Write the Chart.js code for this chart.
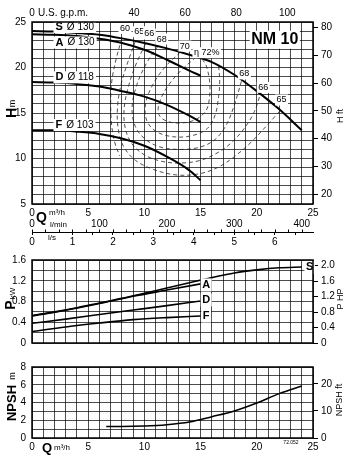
<!DOCTYPE html>
<html>
<head>
<meta charset="utf-8">
<script src="https://cdn.jsdelivr.net/npm/chart.js@4/dist/chart.umd.min.js"></script>
<style>
  html, body { margin: 0; padding: 0; background: #fff; }
  #wrap { position: relative; width: 350px; height: 456px; overflow: hidden; }
  canvas { position: absolute; left: 0; }
</style>
</head>
<body>
<div id="wrap">
  <canvas id="cH" width="350" height="250" style="top:0"></canvas>
  <canvas id="cP" width="350" height="107" style="top:248px"></canvas>
  <canvas id="cN" width="350" height="101" style="top:355px"></canvas>
</div>
<script>
// ---- data (Q in m3/h) ----
var curveNames = ['S', 'A', 'D', 'F'];
var diameters = [130, 130, 118, 103];

// head H (m)
var qS = [0, 2, 4, 6, 8, 10, 12, 14, 16, 18, 20, 22, 24];
var hS = [24.0, 23.95, 23.8, 23.6, 23.2, 22.7, 22.1, 21.4, 20.6, 19.2, 17.4, 15.4, 13.1];
var qAF = [0, 2, 4, 6, 8, 10, 12, 14, 15];
var hA = [23.65, 23.6, 23.45, 23.15, 22.7, 21.95, 20.85, 19.65, 19.1];
var hD = [18.4, 18.35, 18.2, 17.9, 17.4, 16.8, 15.9, 14.7, 14.0];
var hF = [13.1, 13.1, 12.95, 12.7, 12.2, 11.4, 10.2, 8.7, 7.6];

// efficiency lines, [Q, H]
var etaLevels = [60, 65, 66, 68, 70, 72];
var eta60 = [[8.0, 23.2], [7.5, 21.0], [7.1, 18.5], [7.0, 16.0], [7.1, 13.5], [7.4, 11.6], [7.8, 10.3]];
var eta65 = [[9.2, 22.9], [8.5, 20.5], [7.9, 18.0], [7.6, 15.5], [7.7, 13.0], [8.2, 11.2], [9.2, 9.8], [10.8, 8.8], [12.8, 8.2],
             [14.8, 8.3], [16.5, 9.0], [18.0, 10.2], [19.5, 11.8], [20.8, 13.5], [21.6, 14.6], [22.1, 15.3]];
var eta66 = [[10.1, 22.6], [9.3, 20.5], [8.6, 18.0], [8.2, 15.5], [8.3, 13.3], [8.9, 11.6], [10.0, 10.4], [11.5, 9.7], [13.2, 9.5],
             [15.0, 9.8], [16.6, 10.7], [17.8, 11.8], [19.0, 13.5], [19.8, 15.2], [20.3, 17.0]];
var eta68 = [[11.2, 22.35], [10.2, 20.5], [9.3, 18.0], [8.9, 15.5], [9.2, 13.5], [10.0, 12.2], [11.3, 11.3], [13.0, 11.0],
             [14.8, 11.2], [16.2, 12.0], [17.2, 13.5], [17.9, 15.5], [18.4, 17.5], [18.7, 18.8]];
var eta70 = [[13.2, 21.7], [11.8, 20.0], [10.7, 18.0], [10.1, 16.0], [10.2, 14.2], [11.0, 13.0], [12.5, 12.4], [14.2, 12.5],
             [15.6, 13.3], [16.3, 14.8], [16.6, 16.8], [16.7, 18.5], [16.6, 20.2]];
var eta72 = [[14.6, 21.15], [13.2, 19.6], [12.0, 17.8], [11.3, 16.0], [11.3, 14.8], [12.0, 14.1], [13.3, 13.9], [14.6, 14.3],
             [15.5, 15.3], [15.8, 16.8], [15.8, 18.5], [15.5, 20.2], [15.2, 20.8]];

// power P (kW)
var qPS = [0, 2, 4, 6, 8, 10, 12, 14, 16, 18, 20, 22, 24];
var pS = [0.53, 0.6, 0.68, 0.77, 0.86, 0.96, 1.06, 1.16, 1.26, 1.35, 1.41, 1.45, 1.465];
var qP = [0, 3, 6, 9, 12, 15];
var pA = [0.52, 0.63, 0.76, 0.9, 1.02, 1.14];
var pD = [0.38, 0.46, 0.55, 0.635, 0.72, 0.81];
var pF = [0.22, 0.31, 0.385, 0.45, 0.49, 0.52];

// NPSH (m)
var qN = [6.6, 8, 10, 12, 14, 16, 18, 20, 22, 24];
var nN = [1.3, 1.3, 1.35, 1.5, 1.8, 2.4, 3.05, 3.95, 5.0, 5.85];

// ---- helpers ----
var FONT = '"Liberation Sans", Arial, Helvetica, sans-serif';
var GRID = 'rgba(0,0,0,0.7)';

function pts(xs, ys) { return xs.map(function (x, i) { return { x: x, y: ys[i] }; }); }
function pairs(a) { return a.map(function (p) { return { x: p[0], y: p[1] }; }); }
function steps(a, b, s) {
  var out = [];
  for (var v = a; v <= b + 1e-9; v += s) out.push({ value: Math.round(v * 1000) / 1000 });
  return out;
}
function curve(data, w) {
  return { data: data, showLine: true, borderColor: '#000', borderWidth: w, pointRadius: 0,
           cubicInterpolationMode: 'monotone', fill: false };
}
function dashed(data) {
  return { data: data, showLine: true, borderColor: '#222', borderWidth: 0.8, borderDash: [4, 3],
           pointRadius: 0, tension: 0.35, fill: false };
}
function txt(ctx, s, x, y, size, opt) {
  opt = opt || {};
  ctx.save();
  ctx.font = (opt.bold ? 'bold ' : '') + size + 'px ' + FONT;
  ctx.textAlign = opt.align || 'center';
  ctx.textBaseline = 'middle';
  if (opt.rot) { ctx.translate(x, y); ctx.rotate(-Math.PI / 2); x = 0; y = 0; }
  if (opt.bg) {
    var w = ctx.measureText(s).width;
    var x0 = opt.align === 'left' ? x : (opt.align === 'right' ? x - w : x - w / 2);
    ctx.fillStyle = '#fff';
    ctx.fillRect(x0 - 1.5, y - size / 2 - 1, w + 3, size + 2);
  }
  ctx.fillStyle = '#000';
  ctx.fillText(s, x, y);
  ctx.restore();
}
function curveLabel(ctx, letter, dia, x, y) {
  ctx.save();
  ctx.font = 'bold 11px ' + FONT;
  var w1 = ctx.measureText(letter).width;
  ctx.font = '10px ' + FONT;
  var w2 = ctx.measureText('Ø ' + dia).width;
  ctx.fillStyle = '#fff';
  ctx.fillRect(x - 2, y - 6, w1 + w2 + 8, 12);
  ctx.restore();
  txt(ctx, letter, x, y, 11, { bold: true, align: 'left' });
  txt(ctx, 'Ø ' + dia, x + w1 + 4, y, 10, { align: 'left' });
}
var frame = {
  id: 'frame',
  afterDraw: function (chart) {
    var a = chart.chartArea, ctx = chart.ctx;
    ctx.save();
    ctx.strokeStyle = '#000';
    ctx.lineWidth = 1.5;
    ctx.strokeRect(a.left, a.top, a.right - a.left, a.bottom - a.top);
    ctx.restore();
  }
};
function tickFont() { return { family: FONT, size: 10 }; }
function baseOpts(scales, padTop) {
  return {
    responsive: false, animation: false, devicePixelRatio: 1, events: [],
    layout: { padding: { top: padTop, left: 0, right: 0, bottom: 0 } },
    plugins: { legend: { display: false }, tooltip: { enabled: false } },
    scales: scales
  };
}
function leftAxis(min, max, step, labelFn) {
  return {
    type: 'linear', position: 'left', min: min, max: max,
    afterBuildTicks: function (s) { s.ticks = steps(min, max, step); },
    ticks: { autoSkip: false, padding: 6, font: tickFont(), color: '#000', callback: labelFn },
    grid: { color: GRID, lineWidth: 1, drawTicks: false },
    border: { display: false },
    afterFit: function (s) { s.width = 32; }
  };
}
function rightAxis(min, max, values, labelFn) {
  return {
    type: 'linear', position: 'right', min: min, max: max,
    afterBuildTicks: function (s) { s.ticks = values.map(function (v) { return { value: v }; }); },
    ticks: { autoSkip: false, padding: 3, font: tickFont(), color: '#000', callback: labelFn },
    grid: { drawOnChartArea: false, drawTicks: true, tickLength: 5, color: '#000' },
    border: { display: false },
    afterFit: function (s) { s.width = 37; }
  };
}
function qAxis(showLabels, h, pad) {
  return {
    type: 'linear', position: 'bottom', min: 0, max: 25, weight: 0,
    afterBuildTicks: function (s) { s.ticks = steps(0, 25, 1); },
    ticks: { display: showLabels, autoSkip: false, maxRotation: 0, padding: pad, font: tickFont(), color: '#000',
             callback: function (v) { return v % 5 === 0 ? String(v) : ''; } },
    grid: { color: GRID, lineWidth: 1, drawTicks: false },
    border: { display: false },
    afterFit: function (s) { s.height = h; }
  };
}

// ---- H chart ----
var scH = {
  x: qAxis(true, 13, 3),
  xLmin: {
    type: 'linear', position: 'bottom', weight: 1, min: 0, max: 25 / 0.06,
    afterBuildTicks: function (s) { s.ticks = steps(0, 400, 100); },
    ticks: { autoSkip: false, maxRotation: 0, padding: 1, font: tickFont(), color: '#000' },
    grid: { display: false, drawTicks: false }, border: { display: false },
    afterFit: function (s) { s.height = 15; }
  },
  xLs: {
    type: 'linear', position: 'bottom', weight: 2, min: 0, max: 25 / 3.6,
    afterBuildTicks: function (s) { s.ticks = steps(0, 6.5, 0.5); },
    ticks: { autoSkip: false, maxRotation: 0, padding: 1, font: tickFont(), color: '#000',
             callback: function (v) { return v % 1 === 0 ? String(v) : ''; } },
    grid: { display: true, drawOnChartArea: false, drawTicks: true, tickLength: 3, color: '#000' },
    border: { display: true, color: '#000', width: 1 },
    afterFit: function (s) { s.height = 18; }
  },
  xGpm: {
    type: 'linear', position: 'top', min: 0, max: 25 * 4.40287,
    afterBuildTicks: function (s) { s.ticks = [0, 40, 60, 80, 100].map(function (v) { return { value: v }; }); },
    ticks: { autoSkip: false, maxRotation: 0, padding: 3, font: tickFont(), color: '#000' },
    grid: { display: false, drawTicks: false }, border: { display: false },
    afterFit: function (s) { s.height = 22; }
  },
  y: leftAxis(5, 25, 1, function (v) { return v % 5 === 0 ? String(v) : ''; }),
  yFt: rightAxis(5 / 0.3048, 25 / 0.3048, [20, 30, 40, 50, 60, 70, 80], function (v) { return String(v); })
};

var hText = {
  id: 'hText',
  afterDatasetsDraw: function (chart) {
    var ctx = chart.ctx, X = chart.scales.x, Y = chart.scales.y;
    var namePos = [[2.09, 24.45], [2.09, 22.75], [2.09, 18.92], [2.09, 13.68]];
    curveNames.forEach(function (n, i) {
      curveLabel(ctx, n, diameters[i], X.getPixelForValue(namePos[i][0]), Y.getPixelForValue(namePos[i][1]));
    });
    var etaPos = [[8.27, 24.3], [9.55, 23.93], [10.44, 23.68], [11.54, 23.13], [13.6, 22.36], [15.54, 21.63]];
    etaLevels.forEach(function (e, i) {
      var s = i === etaLevels.length - 1 ? 'η ' + e + '%' : String(e);
      txt(ctx, s, X.getPixelForValue(etaPos[i][0]), Y.getPixelForValue(etaPos[i][1]), 9, { bg: true });
    });
    var rightPos = [[68, 18.89, 19.29], [66, 20.58, 17.82], [65, 22.2, 16.43]];
    rightPos.forEach(function (r) {
      txt(ctx, String(r[0]), X.getPixelForValue(r[1]), Y.getPixelForValue(r[2]), 9, { bg: true });
    });
    txt(ctx, 'NM 10', X.getPixelForValue(21.6), Y.getPixelForValue(23.05), 16, { bold: true, bg: true });
  },
  afterDraw: function (chart) {
    var ctx = chart.ctx, ls = chart.scales.xLs, lm = chart.scales.xLmin;
    // l/min minor ticks on the shared line
    ctx.save();
    ctx.strokeStyle = '#000';
    ctx.lineWidth = 1;
    for (var v = 0; v <= 400; v += 20) {
      var px = Math.round(lm.getPixelForValue(v)) + 0.5;
      ctx.beginPath(); ctx.moveTo(px, ls.top - 2.5); ctx.lineTo(px, ls.top); ctx.stroke();
    }
    ctx.restore();
    txt(ctx, 'U.S. g.p.m.', 38, 13, 10, { align: 'left' });
    txt(ctx, 'Q', 41.5, 218, 14, { bold: true });
    txt(ctx, 'm³/h', 49, 212.5, 8, { align: 'left' });
    txt(ctx, 'l/min', 50, 224.5, 8, { align: 'left' });
    txt(ctx, 'l/s', 48, 238, 8, { align: 'left', bg: true });
    txt(ctx, 'H', 12, 113, 14, { bold: true, rot: true });
    txt(ctx, 'm', 13, 103.5, 9, { rot: true });
    txt(ctx, 'H ft', 341, 116, 9, { rot: true });
  }
};

new Chart(document.getElementById('cH'), {
  type: 'scatter',
  data: {
    datasets: [
      curve(pts(qS, hS), 2),
      curve(pts(qAF, hA), 2),
      curve(pts(qAF, hD), 2),
      curve(pts(qAF, hF), 2),
      dashed(pairs(eta60)),
      dashed(pairs(eta65)),
      dashed(pairs(eta66)),
      dashed(pairs(eta68)),
      dashed(pairs(eta70)),
      dashed(pairs(eta72))
    ]
  },
  options: baseOpts(scH, 0),
  plugins: [hText, frame]
});

// ---- P chart ----
function kwLabel(v) { return Math.round(v * 10) % 4 === 0 ? (v === 0 ? '0' : v.toFixed(1)) : ''; }
var scP = {
  x: qAxis(false, 8, 0),
  y: leftAxis(0, 1.6, 0.2, kwLabel),
  yHp: rightAxis(0, 1.6 / 0.7457, [0, 0.4, 0.8, 1.2, 1.6, 2.0], function (v) { return v === 0 ? '0' : v.toFixed(1); })
};
var pText = {
  id: 'pText',
  afterDatasetsDraw: function (chart) {
    var ctx = chart.ctx, X = chart.scales.x, Y = chart.scales.y;
    txt(ctx, 'S', X.getPixelForValue(24.7), Y.getPixelForValue(1.46), 11, { bold: true, bg: true });
    txt(ctx, 'A', X.getPixelForValue(15.5), Y.getPixelForValue(1.12), 11, { bold: true, bg: true });
    txt(ctx, 'D', X.getPixelForValue(15.5), Y.getPixelForValue(0.83), 11, { bold: true, bg: true });
    txt(ctx, 'F', X.getPixelForValue(15.5), Y.getPixelForValue(0.52), 11, { bold: true, bg: true });
  },
  afterDraw: function (chart) {
    var ctx = chart.ctx;
    txt(ctx, 'P', 11, 57, 14, { bold: true, rot: true });
    txt(ctx, 'kW', 12.5, 45.5, 8, { rot: true });
    txt(ctx, 'P HP', 341, 51, 9, { rot: true });
  }
};
new Chart(document.getElementById('cP'), {
  type: 'scatter',
  data: {
    datasets: [
      curve(pts(qPS, pS), 1.6),
      curve(pts(qP, pA), 1.6),
      curve(pts(qP, pD), 1.6),
      curve(pts(qP, pF), 1.6)
    ]
  },
  options: baseOpts(scP, 7),
  plugins: [pText, frame]
});

// ---- NPSH chart ----
var scN = {
  x: qAxis(true, 18, 3),
  y: leftAxis(0, 8, 1, function (v) { return v % 2 === 0 ? String(v) : ''; }),
  yFt: rightAxis(0, 8 / 0.3048, [0, 10, 20], function (v) { return String(v); })
};
var nText = {
  id: 'nText',
  afterDraw: function (chart) {
    var ctx = chart.ctx;
    txt(ctx, 'NPSH', 12, 48, 13, { bold: true, rot: true });
    txt(ctx, 'm', 13, 21, 9, { rot: true });
    txt(ctx, 'NPSH ft', 340, 45, 9, { rot: true });
    txt(ctx, 'Q', 47, 93, 13, { bold: true });
    txt(ctx, 'm³/h', 54, 93, 8, { align: 'left' });
    txt(ctx, '72.052', 291, 88, 5);
  }
};
new Chart(document.getElementById('cN'), {
  type: 'scatter',
  data: { datasets: [curve(pts(qN, nN), 1.6)] },
  options: baseOpts(scN, 9),
  plugins: [nText, frame]
});
</script>
</body>
</html>
